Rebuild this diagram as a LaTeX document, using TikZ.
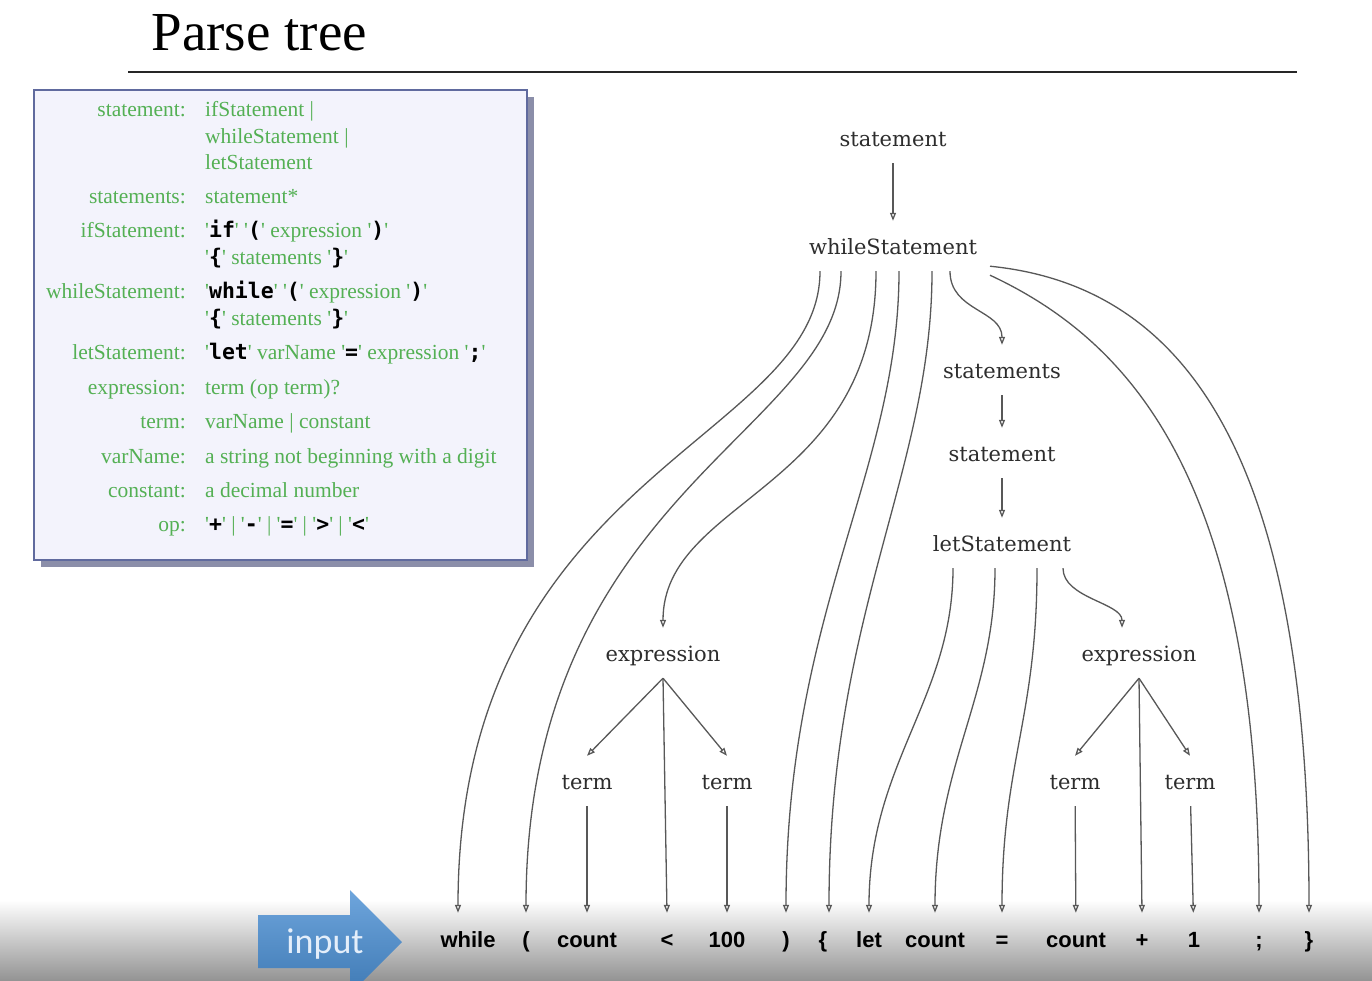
\documentclass[tikz,border=0pt]{standalone}
\usepackage{fontspec}
\setmainfont{Liberation Serif}
\setsansfont{Liberation Sans}
\setmonofont{DejaVu Sans Mono}
\newfontfamily\treefont{DejaVu Serif}
\newfontfamily\inputfont{Carlito}
\usetikzlibrary{arrows.meta,shadows}
\definecolor{gramgreen}{RGB}{84,176,84}
\definecolor{boxfill}{RGB}{243,243,252}
\definecolor{boxline}{RGB}{96,106,158}
\definecolor{boxshadow}{RGB}{62,68,112}
\definecolor{treegray}{RGB}{45,45,45}
\definecolor{linkgray}{RGB}{88,88,88}
\definecolor{inputblue}{RGB}{74,143,212}
\definecolor{inputtext}{RGB}{228,238,250}
\newcommand{\lit}[1]{\textquotesingle\textcolor{black}{\ttfamily\bfseries #1}\textquotesingle}

\begin{document}
\begin{tikzpicture}[x=1pt,y=-1pt,
    tree/.style={font=\treefont\fontsize{21}{25}\selectfont, text=treegray,
        minimum height=50pt, text height=16pt, text depth=0pt, inner xsep=2pt},
    word/.style={font=\sffamily\bfseries\fontsize{22}{26}\selectfont,
        minimum height=52pt, text height=16pt, text depth=0pt, inner xsep=1pt},
    link/.style={draw=linkgray, line width=1.3pt, -{Triangle[open,length=8pt,width=6pt]}},
    glab/.style={anchor=base east, text=gramgreen, inner sep=0pt,
        font=\fontsize{21.5}{25}\selectfont},
    grhs/.style={anchor=base west, text=gramgreen, inner sep=0pt,
        font=\fontsize{21.5}{25}\selectfont}]
    \useasboundingbox (0,0) rectangle (1372,980);
    \fill[white] (0,0) rectangle (1372,980);

    % Bottom band
    \shade[top color=white, middle color=black!10, bottom color=black!42] (0,900) rectangle (1372,980);

    % Title
    \node[anchor=base west, font=\fontsize{55}{60}\selectfont] (title) at (148,50) {Parse tree};
    \draw[line width=2.5pt, black!85] (128,72) -- (1297,72);

    % Grammar box
    \draw[draw=boxline, line width=2pt, fill=boxfill,
        drop shadow={shadow xshift=7pt, shadow yshift=-7pt, fill=boxshadow, opacity=0.6}]
        (34,90) rectangle (527,560);
    \foreach \y/\lab/\rhs [count=\n] in {
        116/statement:/ifStatement |,
        143//whileStatement |,
        169//letStatement,
        203/statements:/statement*,
        237/ifStatement:/\lit{if} \lit{(} expression \lit{)},
        264//\lit{\{} statements \lit{\}},
        298/whileStatement:/\lit{while} \lit{(} expression \lit{)},
        325//\lit{\{} statements \lit{\}},
        359/letStatement:/\lit{let} varName \lit{=} expression \lit{;},
        394/expression:/term (op term)?,
        428/term:/varName | constant,
        463/varName:/a string not beginning with a digit,
        497/constant:/a decimal number,
        531/op:/\lit{+} | \lit{-} | \lit{=} | \lit{>} | \lit{<}}{
        \node[glab] (gl\n) at (186,\y) {\lab};
        \node[grhs] (gr\n) at (205,\y) {\rhs};
    }

    % Tree nodes
    \node[tree] (stmt) at (893,138) {statement};
    \node[tree] (ws) at (893,246) {whileStatement};
    \node[tree] (stmts) at (1002,370) {statements};
    \node[tree] (stmtB) at (1002,453) {statement};
    \node[tree] (let) at (1002,543) {letStatement};
    \node[tree] (exprA) at (663,653) {expression};
    \node[tree] (termA) at (587,781) {term};
    \node[tree] (termB) at (727,781) {term};
    \node[tree] (exprB) at (1139,653) {expression};
    \node[tree] (termC) at (1075,781) {term};
    \node[tree] (termD) at (1190,781) {term};

    % Input tokens
    \node[word] (wWhile) at (468,939) {while};
    \node[word] (wLParen) at (526,939) {(};
    \node[word] (wCount) at (587,939) {count};
    \node[word] (wLess) at (667,939) {<};
    \node[word] (wHundred) at (727,939) {100};
    \node[word] (wRParen) at (786,939) {)};
    \node[word] (wLBrace) at (823,939) {\{};
    \node[word] (wLet) at (869,939) {let};
    \node[word] (wCountB) at (935,939) {count};
    \node[word] (wEq) at (1002,939) {=};
    \node[word] (wCountC) at (1076,939) {count};
    \node[word] (wPlus) at (1142,939) {+};
    \node[word] (wOne) at (1194,939) {1};
    \node[word] (wSemi) at (1259,939) {;};
    \node[word] (wRBrace) at (1309,939) {\}};

    % Input arrow
    \shade[top color=inputblue!80!white, bottom color=inputblue!85!black]
        (258,915) -- (350,915) -- (350,890) -- (402,942) -- (350,994) -- (350,968) -- (258,968) -- cycle;
    \node[anchor=base, font=\inputfont\fontsize{36}{40}\selectfont, text=inputtext] (input) at (325,953) {input};

    % Straight links
    \draw[link] (stmt) -- (ws);
    \draw[link] (stmts) -- (stmtB);
    \draw[link] (stmtB) -- (let);
    \draw[link] (exprA.south) -- (termA.north);
    \draw[link] (exprA.south) -- (wLess.north);
    \draw[link] (exprA.south) -- (termB.north);
    \draw[link] (termA) -- (wCount);
    \draw[link] (termB) -- (wHundred);
    \draw[link] (exprB.south) -- (termC.north);
    \draw[link] (exprB.south) -- (wPlus.north);
    \draw[link] (exprB.south) -- (termD.north);
    \draw[link] (termC) -- (wCountC);
    \draw[link] (termD) -- (wOne);

    % whileStatement children
    \draw[link] ([xshift=-73pt]ws.south) .. controls +(0,170) and +(0,-440) .. ([xshift=-10pt]wWhile.north);
    \draw[link] ([xshift=-52pt]ws.south) .. controls +(0,160) and +(0,-420) .. (wLParen.north);
    \draw[link] ([xshift=-17pt]ws.south) .. controls +(0,220) and +(0,-130) .. (exprA.north);
    \draw[link] ([xshift=6pt]ws.south) .. controls +(0,200) and +(0,-300) .. (wRParen.north);
    \draw[link] ([xshift=39pt]ws.south) .. controls +(0,200) and +(0,-300) .. ([xshift=6pt]wLBrace.north);
    \draw[link] ([xshift=57pt]ws.south) .. controls +(0,40) and +(0,-35) .. (stmts.north);
    \draw[link] ([xshift=97pt,yshift=5pt]ws.south) .. controls +(200,20) and +(0,-450) .. (wRBrace.north);
    \draw[link] ([xshift=97pt,yshift=-4pt]ws.south) .. controls +(150,70) and +(0,-420) .. (wSemi.north);

    % letStatement children
    \draw[link] ([xshift=-49pt]let.south) .. controls +(0,130) and +(0,-150) .. (wLet.north);
    \draw[link] ([xshift=-7pt]let.south) .. controls +(0,130) and +(0,-150) .. (wCountB.north);
    \draw[link] ([xshift=35pt]let.south) .. controls +(0,150) and +(0,-150) .. (wEq.north);
    \draw[link] ([xshift=61pt]let.south) .. controls +(0,30) and +(0,-25) .. ([xshift=-17pt]exprB.north);
\end{tikzpicture}
\end{document}
